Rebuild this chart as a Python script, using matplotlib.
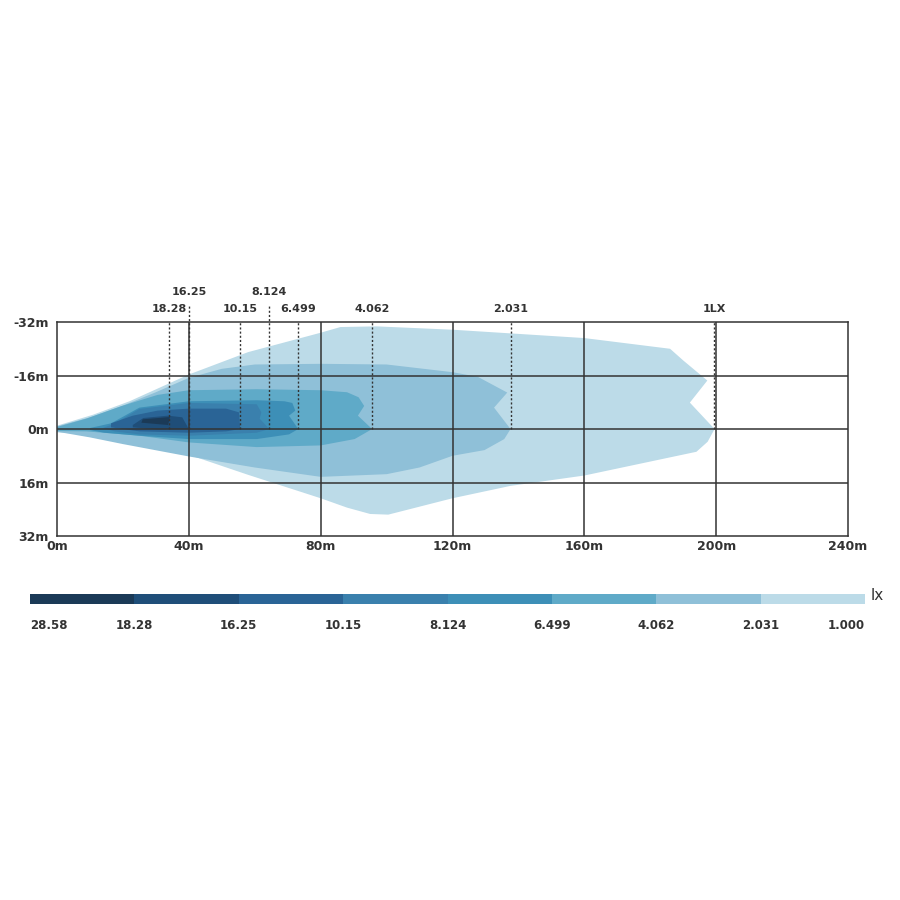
import matplotlib
matplotlib.use("Agg")
import matplotlib.pyplot as plt

# iso-lux levels (legend) and colours
levels = ["28.58", "18.28", "16.25", "10.15", "8.124", "6.499", "4.062", "2.031", "1.000"]
band_colors = ["#1b3a57", "#1f4e79", "#2a6496", "#3a80ad", "#3d8fb7", "#5faac8", "#8fc0d8", "#bcdbe8"]

# contour outlines (distance m, lateral m), outer to inner
c_1 = [(0, -1), (11, -4.3), (22, -8.3), (40, -16.3), (58, -23), (80, -28.8), (86, -30.5), (97, -30.7),
       (120, -29.7), (160, -27.2), (186, -24), (190, -20.5), (197.3, -14.5), (192, -7.9), (199.5, 0), (197.4, 3.8),
       (194, 6.8), (160, 13.9), (137.6, 17), (120, 20.7), (100.5, 25.6), (95, 25.4), (88, 23.5), (80, 20.7),
       (58, 13.7), (40, 7.7), (22, 3.7), (11, 1.7), (0, 1)]
c_2 = [(0, -0.8), (10, -3.5), (20, -7), (30, -11), (40, -15.3), (50, -18), (60, -19.3), (80, -19.5),
       (100, -19.3), (120, -17), (127.7, -15.6), (136.6, -10.9), (132.6, -6.4), (137.6, 0), (135.7, 3),
       (129.7, 6.3), (120, 8), (110, 11.5), (100, 13.5), (80, 14.3), (60, 11.5), (40, 8.2), (20, 4.5),
       (10, 2.5), (0, 0.8)]
c_3 = [(0, -0.6), (8.9, -3.1), (19.7, -6.9), (30.5, -10.2), (40, -11.6), (60.6, -11.9), (80, -11.6),
       (88, -11), (91.5, -9.5), (93.2, -6.9), (91.3, -4), (95.6, 0), (93.5, 1.2), (90.3, 3), (80, 4.9), (60.6, 5.4),
       (40, 4), (25, 2), (8.9, 0.7), (0, 0.6)]
c_4 = [(10, -0.3), (16.4, -1.7), (25, -6.4), (40, -8.3), (60.6, -8.6), (69, -8.3), (71.4, -7.8), (72.3, -5.5),
       (70.4, -4), (73.2, 0), (70.4, 1.6), (60.6, 3), (40, 3), (25, 2), (14.3, 1.1), (10, 0.3)]
c_5 = [(14, -0.3), (17.5, -1.7), (25, -6), (40, -7.8), (60.6, -7.4), (62, -5), (61.5, -3.1), (64.4, 0),
       (60.6, 1.1), (40, 2), (25, 1.6), (17.5, 0.7)]
c_6 = [(16.4, -1.7), (23, -4), (30.5, -5.5), (40, -6.1), (51.3, -6.1), (55.2, -5), (55.6, 0),
       (51.3, 0.7), (40, 1.1), (25, 0.7), (16.4, -0.5)]
c_7 = [(23, -1.2), (26.2, -3.3), (33.7, -4), (38, -3.5), (40, 0), (30.5, 0.1), (23, -0.5)]
c_8 = [(26, -2.9), (34.3, -3.6), (33.7, -1.2), (25.6, -1.9)]
contours = [c_1, c_2, c_3, c_4, c_5, c_6, c_7, c_8]
contour_colors = band_colors[::-1]

# dashed markers: label, tip distance, label row (0 low, 1 high)
marker_labels = ["18.28", "16.25", "10.15", "8.124", "6.499", "4.062", "2.031", "1LX"]
marker_x = [34, 40, 55.6, 64.4, 73.2, 95.6, 137.6, 199.3]
marker_row = [0, 1, 0, 1, 0, 0, 0, 0]

x_ticks = [0, 40, 80, 120, 160, 200, 240]
y_ticks = [-32, -16, 0, 16, 32]

fig = plt.figure(figsize=(9, 9), dpi=100)
ax = fig.add_axes([0.0633, 0.4044, 0.879, 0.2378])
ax.set_xlim(0, 240)
ax.set_ylim(32, -32)
for poly, col in zip(contours, contour_colors):
    xs = [p[0] for p in poly]
    ys = [p[1] for p in poly]
    ax.fill(xs, ys, color=col, lw=0, zorder=1)
for xt in x_ticks[1:-1]:
    ax.axvline(xt, color="#333333", lw=1.1, zorder=3)
for yt in y_ticks[1:-1]:
    ax.axhline(yt, color="#333333", lw=1.1, zorder=3)
for s in ax.spines.values():
    s.set_color("#333333"); s.set_linewidth(1.1)
ax.set_xticks(x_ticks)
ax.set_xticklabels([f"{v}m" for v in x_ticks], fontsize=9, fontweight="bold", color="#333333")
ax.set_yticks(y_ticks)
ax.set_yticklabels([f"{v}m" for v in y_ticks], fontsize=9, fontweight="bold", color="#333333")
ax.tick_params(length=0, pad=3)
ax.tick_params(axis="y", pad=6)

for lab, mx, row in zip(marker_labels, marker_x, marker_row):
    top = -32 if row == 0 else -37.5
    ax.plot([mx, mx], [0, top], ls=(0, (1.5, 1.5)), color="#333333", lw=1, zorder=4, clip_on=False)
    ax.text(mx, -34.5 if row == 0 else -39.5, lab, ha="center", va="bottom", fontsize=8,
            fontweight="bold", color="#333333")

# colour legend bar
cax = fig.add_axes([0.0333, 0.329, 0.928, 0.011])
n = len(band_colors)
cax.barh([0] * n, [1] * n, left=list(range(n)), height=1, color=band_colors, lw=0)
cax.set_xlim(0, n); cax.set_ylim(-0.5, 0.5)
cax.axis("off")
for i, lab in enumerate(levels):
    ha = "left" if i == 0 else ("right" if i == n else "center")
    cax.text(i, -2.0, lab, ha=ha, va="top", fontsize=8.5, fontweight="bold", color="#333333")
cax.text(n + 0.05, 0.3, "lx", ha="left", va="center", fontsize=11, color="#333333")

fig.savefig("out.png", dpi=100, facecolor="white")
